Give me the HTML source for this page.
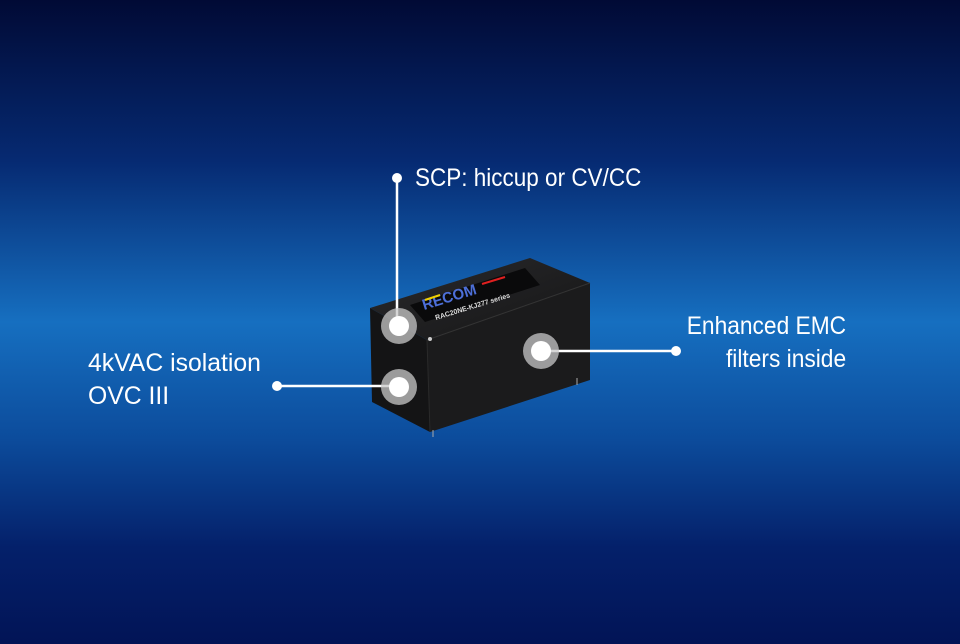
<!DOCTYPE html>
<html><head><style>
html,body{margin:0;padding:0}
body{width:960px;height:644px;overflow:hidden;position:relative;font-family:"Liberation Sans",sans-serif;
background:linear-gradient(180deg,#010a35 0%,#062a72 25%,#166fc0 50%,#0c4c9c 68%,#04206a 85%,#021456 100%);}
.t{position:absolute;color:#fff;font-family:"Liberation Sans",sans-serif;font-size:25px;line-height:33px;white-space:nowrap}
</style></head><body>
<svg width="960" height="644" style="position:absolute;left:0;top:0">
<defs>
<linearGradient id="tp" x1="0" y1="0" x2="1" y2="1"><stop offset="0" stop-color="#2a2a2c"/><stop offset="1" stop-color="#151516"/></linearGradient>
</defs>
<polygon points="370,308 530,258 590,283 427,340" fill="url(#tp)"/>
<polygon points="370,308 427,340 430,432 372,402" fill="#141415"/>
<polygon points="427,340 590,283 590,380 430,432" fill="#1b1b1c"/>
<line x1="427" y1="340" x2="590" y2="283" stroke="#333" stroke-width="1"/>
<line x1="427" y1="340" x2="430" y2="432" stroke="#2a2a2a" stroke-width="1"/>
<polygon points="410,305 525,268 540,285 425,322" fill="#0a0a0b"/>
<text x="424" y="310" fill="#4d6fd8" font-size="15" font-weight="bold" transform="rotate(-17 424 310)" font-family="Liberation Sans">RECOM</text>
<line x1="425" y1="300" x2="440" y2="295" stroke="#f0d000" stroke-width="2"/>
<line x1="482" y1="284" x2="505" y2="277" stroke="#e02020" stroke-width="2"/>
<text x="436" y="320" fill="#ddd" font-size="7" font-weight="bold" transform="rotate(-17 436 320)">RAC20NE-KJ277 series</text>
<circle cx="430" cy="339" r="2" fill="#ccc"/>
<line x1="577" y1="378" x2="577" y2="385" stroke="#aaa"/>
<line x1="433" y1="430" x2="433" y2="437" stroke="#aaa"/>
<g stroke="#fff" stroke-width="2.5">
<line x1="397" y1="178" x2="397" y2="325"/>
<line x1="277" y1="386" x2="399" y2="386"/>
<line x1="541" y1="351" x2="676" y2="351"/>
</g>
<g fill="#fff">
<circle cx="397" cy="178" r="5"/><circle cx="277" cy="386" r="5"/><circle cx="676" cy="351" r="5"/>
</g>
<g fill="#c8c8c8" fill-opacity="0.75">
<circle cx="399" cy="326" r="18"/><circle cx="399" cy="387" r="18"/><circle cx="541" cy="351" r="18"/>
</g>
<g fill="#fff">
<circle cx="399" cy="326" r="10"/><circle cx="399" cy="387" r="10"/><circle cx="541" cy="351" r="10"/>
</g>
</svg>
<div class="t" style="left:415px;top:162px;transform:scaleX(0.9);transform-origin:left">SCP: hiccup or CV/CC</div>
<div class="t" style="left:88px;top:347px;transform:scaleX(0.99);transform-origin:left">4kVAC isolation<br>OVC III</div>
<div class="t" style="right:114px;top:310px;text-align:right;transform:scaleX(0.91);transform-origin:right">Enhanced EMC<br>filters inside</div>
</body></html>
